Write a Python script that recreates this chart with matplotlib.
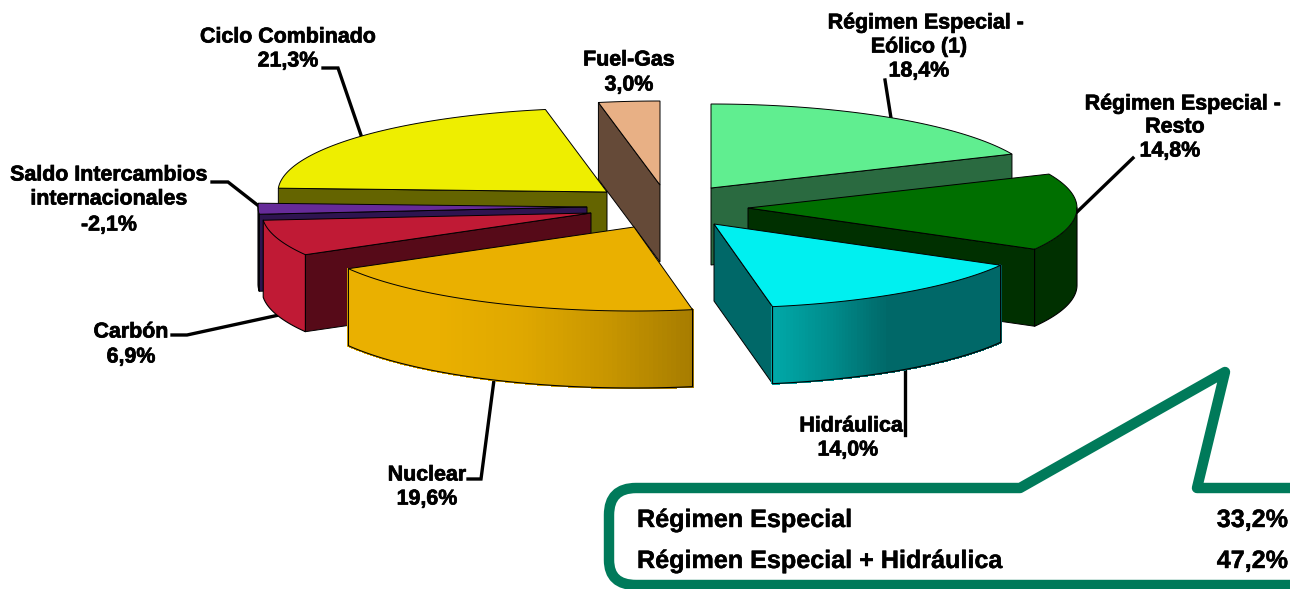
import numpy as np
import matplotlib
matplotlib.use('Agg')
import matplotlib.pyplot as plt
import matplotlib.patheffects as pe
from matplotlib.colors import LinearSegmentedColormap
from matplotlib.patches import PathPatch
from matplotlib.path import Path

plt.rcParams['font.family'] = ['Liberation Sans', 'DejaVu Sans']

# data (clockwise from 12 o'clock)
sources = ['Régimen Especial - Eólico (1)', 'Régimen Especial - Resto', 'Hidráulica', 'Nuclear',
           'Carbón', 'Saldo Intercambios internacionales', 'Ciclo Combinado', 'Fuel-Gas']
shares = [18.4, 14.8, 14.0, 19.6, 6.9, -2.1, 21.3, 3.0]
summary_names = ['Régimen Especial', 'Régimen Especial + Hidráulica']
summary_values = ['33,2%', '47,2%']

# look of the slices
top_colors = ['#60ee90', '#006f00', '#00f0f0', '#eab000', '#c01a35', '#662b99', '#eeee00', '#e8b085']
wall_colors = ['#2a6a40', '#003000', '#006868', '#eab000', '#c01a35', '#2e1450', '#646400', '#654a38']
side_colors = ['#2a6a40', '#003000', '#006868', '#eab000', '#560a18', '#2e1450', '#646400', '#654a38']
apex_x = [711, 748, 714, 634, 591, 587, 607, 660]
apex_y = [188, 208, 224, 227, 213, 207, 192, 185]
draw_order = [7, 0, 6, 5, 4, 3, 1, 2]
RX, RY, DEPTH = 329, 84, 77
GREEN = '#007a5a'

wall_ramps = {
    2: ['#00a8a8', '#008c8c', '#006868', '#006868', '#006868'],
    3: ['#eab000', '#eab000', '#dfa800', '#c89600', '#a67c00'],
}

# text lines of the labels: text, x, y
label_lines = [
    ('Ciclo Combinado', 288, 37), ('21,3%', 288, 61),
    ('Fuel-Gas', 629, 60), ('3,0%', 629, 85),
    ('Régimen Especial -', 926, 23), ('Eólico (1)', 919, 47), ('18,4%', 919, 71),
    ('Régimen Especial -', 1183, 104), ('Resto', 1175, 127), ('14,8%', 1170, 151),
    ('Saldo Intercambios', 109, 175), ('internacionales', 109, 199), ('-2,1%', 109, 225),
    ('Carbón', 131, 332), ('6,9%', 131, 357),
    ('Nuclear', 427, 475), ('19,6%', 427, 499),
    ('Hidráulica', 851, 426), ('14,0%', 848, 450),
]
leaders = [
    ([323, 338, 362], [68, 68, 138]),
    ([885, 891], [80, 118]),
    ([1133, 1077], [158, 212]),
    ([212, 228, 260], [182, 182, 207]),
    ([172, 187, 279], [335, 335, 315]),
    ([468, 481, 494], [479, 479, 380]),
    ([905, 905], [368, 435]),
]


def rim(cx, cy, theta):
    return cx + RX * np.sin(theta), cy - RY * np.cos(theta)


def draw_slice(ax, i, start, end):
    cx, cy = apex_x[i], apex_y[i]
    # radial walls that face the viewer
    for theta, visible in ((start, np.sin(start) < 0), (end, np.sin(end) > 0)):
        if visible:
            x, y = rim(cx, cy, theta)
            ax.fill([cx, x, x, cx], [cy, y, y + DEPTH, cy + DEPTH], fc=side_colors[i], ec='black', lw=0.7)

    # outer wall, only the part on the near side of the pie
    low = max(start, np.pi / 2)
    high = min(end, 1.5 * np.pi)
    if high > low:
        th = np.linspace(low, high, 90)
        x, y = rim(cx, cy, th)
        if i in wall_ramps:
            cmap = LinearSegmentedColormap.from_list('wall', wall_ramps[i])
            for k in range(len(th) - 1):
                t = (0.5 * (x[k] + x[k + 1]) - x.min()) / (x.max() - x.min())
                ax.fill([x[k], x[k + 1], x[k + 1], x[k]], [y[k], y[k + 1], y[k + 1] + DEPTH, y[k] + DEPTH],
                        fc=cmap(t), ec=cmap(t), lw=1.0, antialiased=False)
        else:
            ax.fill(np.r_[x, x[::-1]], np.r_[y, y[::-1] + DEPTH], fc=wall_colors[i], ec='none')
        ax.plot(np.r_[x[0], x[0], x, x[-1], x[-1]], np.r_[y[0], y[0] + DEPTH, y + DEPTH, y[-1] + DEPTH, y[-1]],
                color='black', lw=0.8)

    # top face
    th = np.linspace(start, end, 80)
    x, y = rim(cx, cy, th)
    ax.fill(np.r_[cx, x], np.r_[cy, y], fc=top_colors[i], ec='black', lw=0.7, joinstyle='miter')


def callout_path():
    codes = [Path.MOVETO, Path.LINETO, Path.LINETO, Path.LINETO, Path.LINETO, Path.LINETO,
             Path.CURVE3, Path.CURVE3, Path.LINETO, Path.CURVE3, Path.CURVE3, Path.LINETO]
    verts = [(1300, 585), (1300, 488), (1197, 488), (1225, 372), (1020, 488), (636, 488),
             (609, 488), (609, 515), (609, 560), (609, 585), (636, 585), (1300, 585)]
    return Path(verts, codes)


fig = plt.figure(figsize=(12.9, 5.89), dpi=100)
ax = fig.add_axes([0, 0, 1, 1])
ax.set_xlim(0, 1290)
ax.set_ylim(589, 0)
ax.axis('off')

# angles of the slices come from the shares
sizes = np.abs(shares)
edges = np.r_[0, np.cumsum(sizes)] / sizes.sum() * 2 * np.pi

for x, y in leaders:
    ax.plot(x, y, color='black', lw=2.4, solid_joinstyle='miter', zorder=1)

for i in draw_order:
    draw_slice(ax, i, edges[i], edges[i + 1])

for text, x, y in label_lines:
    ax.text(x, y, text, ha='center', va='center', fontsize=15.4, fontweight='bold', color='black',
            path_effects=[pe.withStroke(linewidth=0.5, foreground='black')])

ax.add_patch(PathPatch(callout_path(), fc='white', ec=GREEN, lw=7.5, joinstyle='round', zorder=3))

for name, value, y in zip(summary_names, summary_values, [520, 561]):
    ax.text(637, y, name, ha='left', va='center', fontsize=18.1, fontweight='bold', zorder=4,
            path_effects=[pe.withStroke(linewidth=0.3, foreground='black')])
    ax.text(1288, y, value, ha='right', va='center', fontsize=18.1, fontweight='bold', zorder=4,
            path_effects=[pe.withStroke(linewidth=0.3, foreground='black')])

fig.savefig('out.png', dpi=100)
plt.close(fig)
